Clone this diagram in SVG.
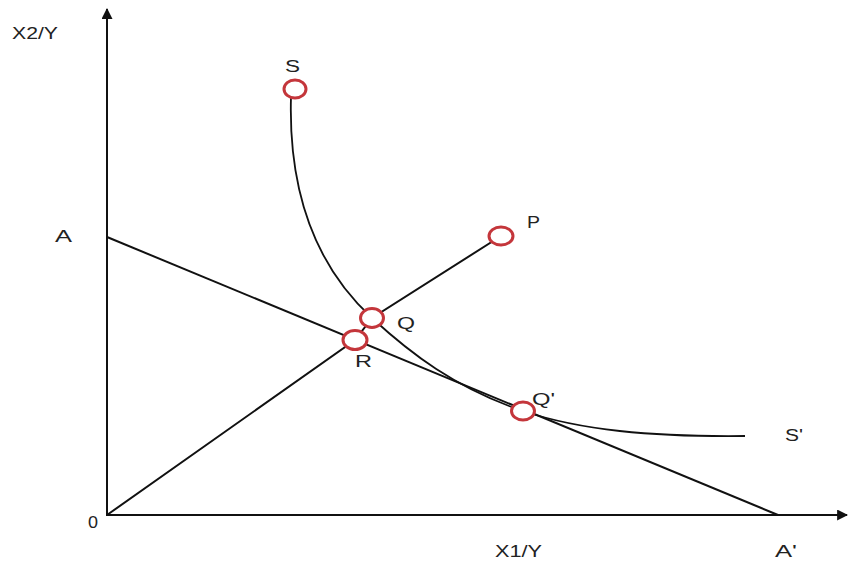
<svg xmlns="http://www.w3.org/2000/svg" width="848" height="562" viewBox="0 0 848 562">
<style>
.ln{fill:none;stroke:#111;stroke-width:2;}
.cv{fill:none;stroke:#111;stroke-width:1.8;}
.pt{fill:#fff;stroke:#c4363b;stroke-width:3;}
.lb{font-family:"Liberation Sans",Arial,sans-serif;font-size:16px;fill:#222;}
</style>
<defs>
<marker id="arr" viewBox="0 0 10 10" refX="9" refY="5" markerWidth="12" markerHeight="11" orient="auto" markerUnits="userSpaceOnUse">
<path d="M0,0 L10,5 L0,10 z" fill="#111"/>
</marker>
</defs>
<rect width="848" height="562" fill="#fff"/>
<g id="connectors">
<line class="ln" x1="107" y1="516" x2="107" y2="9" marker-end="url(#arr)"/>
<line class="ln" x1="106" y1="515" x2="847" y2="515" marker-end="url(#arr)"/>
<path id="budget" class="ln" d="M107,237 L778,515"/>
<path id="ray" class="ln" d="M107,515 L355,340 L372,318 L501,236"/>
<path id="isoquant" class="cv" d="M291,97 C288,200 320,270 372,318 C410,353 455,388 523,411 C580,430 650,437 745,436"/>
</g>
<g id="node-S"><ellipse class="pt" cx="295" cy="89" rx="11" ry="9"/><text class="lb" x="285" y="72" textLength="15" lengthAdjust="spacingAndGlyphs">S</text></g>
<g id="node-P"><ellipse class="pt" cx="501" cy="236" rx="12" ry="9"/><text class="lb" x="527" y="228" textLength="13" lengthAdjust="spacingAndGlyphs">P</text></g>
<g id="node-Q"><ellipse class="pt" cx="372" cy="318" rx="11.5" ry="9.5"/><text class="lb" x="397" y="329" textLength="18" lengthAdjust="spacingAndGlyphs">Q</text></g>
<g id="node-R"><ellipse class="pt" cx="355" cy="340" rx="12" ry="9.5"/><text class="lb" x="355" y="367" textLength="17" lengthAdjust="spacingAndGlyphs">R</text></g>
<g id="node-Q2"><ellipse class="pt" cx="523" cy="411" rx="11.5" ry="9"/><text class="lb" x="532" y="405" textLength="23" lengthAdjust="spacingAndGlyphs">Q'</text></g>
<g id="node-S2"><text class="lb" x="785" y="441" textLength="18" lengthAdjust="spacingAndGlyphs">S'</text></g>
<g id="node-A"><text class="lb" x="55" y="242" textLength="17" lengthAdjust="spacingAndGlyphs">A</text></g>
<g id="node-A2"><text class="lb" x="775" y="557" textLength="22" lengthAdjust="spacingAndGlyphs">A'</text></g>
<g id="node-O"><text class="lb" x="88" y="528" textLength="10" lengthAdjust="spacingAndGlyphs">0</text></g>
<g id="label-y"><text class="lb" x="12" y="39" textLength="46" lengthAdjust="spacingAndGlyphs">X2/Y</text></g>
<g id="label-x"><text class="lb" x="495" y="557" textLength="47" lengthAdjust="spacingAndGlyphs">X1/Y</text></g>
</svg>
